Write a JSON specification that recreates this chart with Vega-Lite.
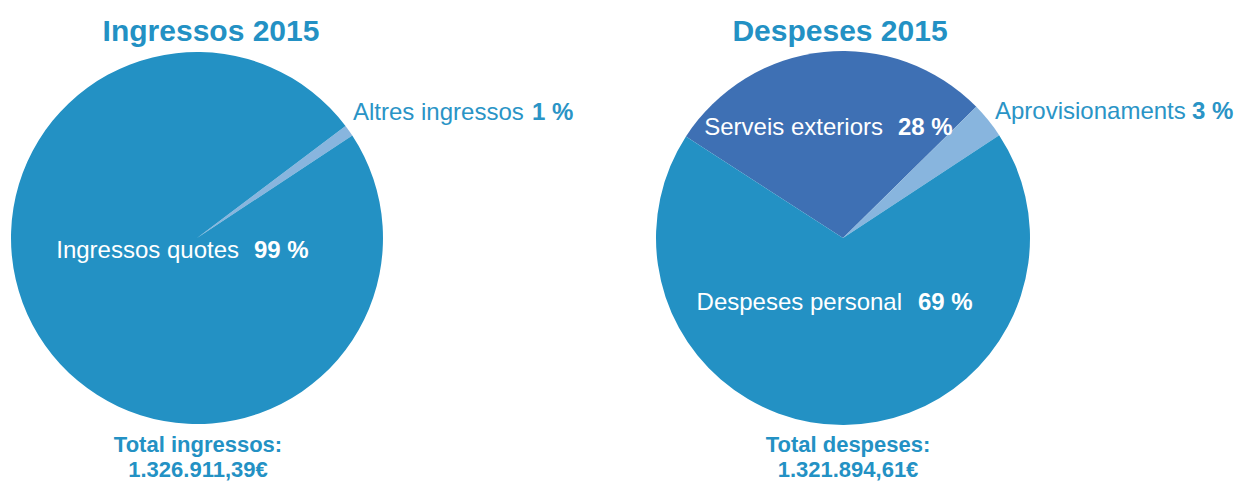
{
  "$schema": "https://vega.github.io/schema/vega-lite/v6.json",
  "padding": 0,
  "background": "white",
  "bounds": "flush",
  "spacing": 252,
  "config": {"view": {"stroke": null}, "text": {"font": "Liberation Sans", "baseline": "alphabetic"}},
  "resolve": {"scale": {"theta": "independent", "color": "shared"}},
  "hconcat": [
    {
      "width": 394,
      "height": 476,
      "data": {"values": [
        {"cat": "Altres ingressos", "value": 1, "pct": "1 %", "i": 1},
        {"cat": "Ingressos quotes", "value": 99, "pct": "99 %", "i": 2}
      ]},
      "layer": [
        {
          "mark": {"type": "arc", "radius": 186, "strokeWidth": 0},
          "encoding": {
            "theta": {"field": "value", "type": "quantitative", "stack": true, "scale": {"range": [0.925, 7.208]}},
            "order": {"field": "i", "type": "quantitative"},
            "color": {"field": "cat", "type": "nominal", "legend": null,
              "scale": {"domain": ["Ingressos quotes", "Altres ingressos", "Serveis exteriors", "Aprovisionaments", "Despeses personal"],
                        "range": ["#2391C4", "#88B5DE", "#3E70B4", "#88B5DE", "#2391C4"]}}
          }
        },
        {
          "transform": [{"filter": "datum.cat == 'Ingressos quotes'"}],
          "mark": {"type": "text", "align": "right", "dx": 42, "dy": 20, "fontSize": 24, "color": "white"},
          "encoding": {"text": {"field": "cat"}}
        },
        {
          "transform": [{"filter": "datum.cat == 'Ingressos quotes'"}],
          "mark": {"type": "text", "align": "left", "dx": 57, "dy": 20, "fontSize": 24, "fontWeight": "bold", "color": "white"},
          "encoding": {"text": {"field": "pct"}}
        },
        {
          "transform": [{"filter": "datum.cat == 'Altres ingressos'"}],
          "mark": {"type": "text", "align": "left", "dx": 156, "dy": -118, "fontSize": 24, "color": "#2A94C6"},
          "encoding": {"text": {"field": "cat"}}
        },
        {
          "transform": [{"filter": "datum.cat == 'Altres ingressos'"}],
          "mark": {"type": "text", "align": "left", "dx": 335, "dy": -118, "fontSize": 24, "fontWeight": "bold", "color": "#2A94C6"},
          "encoding": {"text": {"field": "pct"}}
        },
        {
          "data": {"values": [{"t": "Ingressos 2015"}]},
          "mark": {"type": "text", "align": "center", "dx": 14, "dy": -197, "fontSize": 30, "fontWeight": "bold", "color": "#2391C4"},
          "encoding": {"text": {"field": "t"}}
        },
        {
          "data": {"values": [{"t": ["Total ingressos:", "1.326.911,39€"]}]},
          "mark": {"type": "text", "align": "center", "dx": 1, "dy": 214, "lineHeight": 25, "fontSize": 22, "fontWeight": "bold", "color": "#2391C4"},
          "encoding": {"text": {"field": "t"}}
        }
      ]
    },
    {
      "width": 394,
      "height": 476,
      "data": {"values": [
        {"cat": "Serveis exteriors", "value": 28.5, "pct": "28 %", "i": 1},
        {"cat": "Aprovisionaments", "value": 3.1, "pct": "3 %", "i": 2},
        {"cat": "Despeses personal", "value": 68.4, "pct": "69 %", "i": 3}
      ]},
      "layer": [
        {
          "mark": {"type": "arc", "radius": 187, "strokeWidth": 0},
          "encoding": {
            "theta": {"field": "value", "type": "quantitative", "stack": true, "scale": {"range": [-0.997, 5.286]}},
            "order": {"field": "i", "type": "quantitative"},
            "color": {"field": "cat", "type": "nominal", "legend": null}
          }
        },
        {
          "transform": [{"filter": "datum.cat == 'Serveis exteriors'"}],
          "mark": {"type": "text", "align": "right", "dx": 40, "dy": -103, "fontSize": 24, "color": "white"},
          "encoding": {"text": {"field": "cat"}}
        },
        {
          "transform": [{"filter": "datum.cat == 'Serveis exteriors'"}],
          "mark": {"type": "text", "align": "left", "dx": 55, "dy": -103, "fontSize": 24, "fontWeight": "bold", "color": "white"},
          "encoding": {"text": {"field": "pct"}}
        },
        {
          "transform": [{"filter": "datum.cat == 'Despeses personal'"}],
          "mark": {"type": "text", "align": "right", "dx": 59, "dy": 72, "fontSize": 24, "color": "white"},
          "encoding": {"text": {"field": "cat"}}
        },
        {
          "transform": [{"filter": "datum.cat == 'Despeses personal'"}],
          "mark": {"type": "text", "align": "left", "dx": 75, "dy": 72, "fontSize": 24, "fontWeight": "bold", "color": "white"},
          "encoding": {"text": {"field": "pct"}}
        },
        {
          "transform": [{"filter": "datum.cat == 'Aprovisionaments'"}],
          "mark": {"type": "text", "align": "left", "dx": 152, "dy": -119, "fontSize": 24, "color": "#2A94C6"},
          "encoding": {"text": {"field": "cat"}}
        },
        {
          "transform": [{"filter": "datum.cat == 'Aprovisionaments'"}],
          "mark": {"type": "text", "align": "left", "dx": 349, "dy": -119, "fontSize": 24, "fontWeight": "bold", "color": "#2A94C6"},
          "encoding": {"text": {"field": "pct"}}
        },
        {
          "data": {"values": [{"t": "Despeses 2015"}]},
          "mark": {"type": "text", "align": "center", "dx": -3, "dy": -197, "fontSize": 30, "fontWeight": "bold", "color": "#2391C4"},
          "encoding": {"text": {"field": "t"}}
        },
        {
          "data": {"values": [{"t": ["Total despeses:", "1.321.894,61€"]}]},
          "mark": {"type": "text", "align": "center", "dx": 5, "dy": 214, "lineHeight": 25, "fontSize": 22, "fontWeight": "bold", "color": "#2391C4"},
          "encoding": {"text": {"field": "t"}}
        }
      ]
    }
  ]
}
